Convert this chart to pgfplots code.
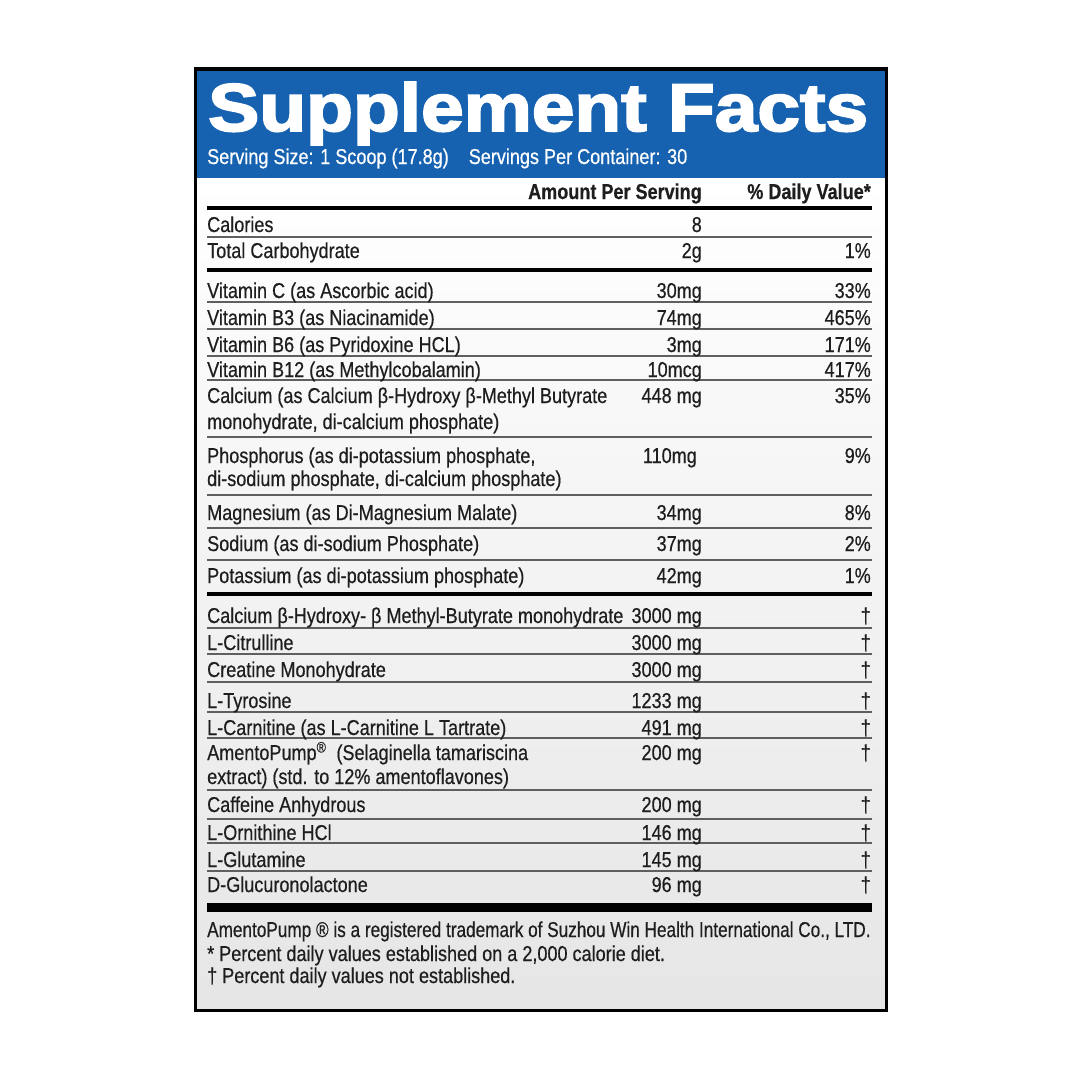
\documentclass[border=0pt]{standalone}
\usepackage{fontspec}
\setmainfont{Liberation Sans}[FakeStretch=0.84,FakeBold=0.5]
\newfontfamily\titlefont{Liberation Sans}[FakeBold=2.6]
\usepackage{graphicx}
\usepackage{pgfplots}
\pgfplotsset{compat=1.18}
\definecolor{labelblue}{RGB}{22,98,176}
\definecolor{ink}{RGB}{30,30,30}
\definecolor{rulegray}{RGB}{95,95,95}
\newcommand\fs{\fontsize{21.5}{24}\selectfont}
\newcommand\Lt[2]{\node[anchor=base west,inner sep=0pt,text=ink,font=\fs] at (axis cs:207,#1) {#2};}
\newcommand\Am[2]{\node[anchor=base east,inner sep=0pt,text=ink,font=\fs] at (axis cs:702,#1) {#2};}
\newcommand\Dv[2]{\node[anchor=base east,inner sep=0pt,text=ink,font=\fs] at (axis cs:871,#1) {#2};}
\newcommand\Thin[1]{\addplot[rulegray,line width=1.6pt] coordinates {(207,#1)(872,#1)};}
\newcommand\Thick[2]{\addplot[black,line width=#2] coordinates {(207,#1)(872,#1)};}
\begin{document}
\begin{tikzpicture}
\begin{axis}[width=1080pt,height=1080pt,scale only axis,
  xmin=0,xmax=1080,ymin=0,ymax=1080,y dir=reverse,
  axis lines=none,clip=false]
% page background
\addplot[draw=none,fill=white] coordinates {(0,0)(1080,0)(1080,1080)(0,1080)} -- cycle;
% label body with light gradient
\addplot[draw=none,top color=white,bottom color=black!10] coordinates {(196,178)(885,178)(885,1010)(196,1010)} -- cycle;
% blue header
\addplot[draw=none,fill=labelblue] coordinates {(197,70.5)(885,70.5)(885,178)(197,178)} -- cycle;
% frame
\addplot[black,line width=3.5pt] coordinates {(195.5,69)(886.5,69)(886.5,1010.5)(195.5,1010.5)} -- cycle;
% rules
\Thick{208}{3.5pt}
\Thin{237}
\Thick{270}{4pt}
\Thin{302}\Thin{329}\Thin{356}\Thin{380}\Thin{437}\Thin{495}\Thin{528}\Thin{560}
\Thick{594}{4pt}
\Thin{628}\Thin{654}\Thin{682}\Thin{712}\Thin{738}\Thin{790}\Thin{819}\Thin{843}\Thin{871}
\Thick{907.5}{9pt}
% title
\node[anchor=base west,inner sep=0pt,text=white] at (axis cs:208,131) {\resizebox{660pt}{49pt}{\titlefont\bfseries Supplement Facts}};
\node[anchor=base west,inner sep=0pt,text=white,font=\fs] at (axis cs:207,164) {Serving Size: 1 Scoop (17.8g)\hspace{20pt}Servings Per Container: 30};
% header
\Am{199}{\bfseries Amount Per Serving}
\Dv{199}{\bfseries \% Daily Value*}
% rows
\Lt{232}{Calories}\Am{232}{8}
\Lt{258}{Total Carbohydrate}\Am{258}{2g}\Dv{258}{1\%}
\Lt{298}{Vitamin C (as Ascorbic acid)}\Am{298}{30mg}\Dv{298}{33\%}
\Lt{325}{Vitamin B3 (as Niacinamide)}\Am{325}{74mg}\Dv{325}{465\%}
\Lt{352}{Vitamin B6 (as Pyridoxine HCL)}\Am{352}{3mg}\Dv{352}{171\%}
\Lt{377}{Vitamin B12 (as Methylcobalamin)}\Am{377}{10mcg}\Dv{377}{417\%}
\Lt{403}{Calcium (as Calcium β-Hydroxy β-Methyl Butyrate}\Am{403}{448 mg}\Dv{403}{35\%}
\Lt{429}{monohydrate, di-calcium phosphate)}
\Lt{463}{Phosphorus (as di-potassium phosphate,}\node[anchor=base east,inner sep=0pt,text=ink,font=\fs] at (axis cs:697,463) {110mg};\Dv{463}{9\%}
\Lt{486}{di-sodium phosphate, di-calcium phosphate)}
\Lt{520}{Magnesium (as Di-Magnesium Malate)}\Am{520}{34mg}\Dv{520}{8\%}
\Lt{551}{Sodium (as di-sodium Phosphate)}\Am{551}{37mg}\Dv{551}{2\%}
\Lt{583}{Potassium (as di-potassium phosphate)}\Am{583}{42mg}\Dv{583}{1\%}
\Lt{623}{Calcium β-Hydroxy- β Methyl-Butyrate monohydrate}\Am{623}{3000 mg}\Dv{623}{†}
\Lt{650}{L-Citrulline}\Am{650}{3000 mg}\Dv{650}{†}
\Lt{677}{Creatine Monohydrate}\Am{677}{3000 mg}\Dv{677}{†}
\Lt{708}{L-Tyrosine}\Am{708}{1233 mg}\Dv{708}{†}
\Lt{735}{L-Carnitine (as L-Carnitine L Tartrate)}\Am{735}{491 mg}\Dv{735}{†}
\Lt{760}{AmentoPump\textsuperscript{®}\ \ (Selaginella tamariscina}\Am{760}{200 mg}\Dv{760}{†}
\Lt{784}{extract) (std. to 12\% amentoflavones)}
\Lt{812}{Caffeine Anhydrous}\Am{812}{200 mg}\Dv{812}{†}
\Lt{840}{L-Ornithine HCl}\Am{840}{146 mg}\Dv{840}{†}
\Lt{867}{L-Glutamine}\Am{867}{145 mg}\Dv{867}{†}
\Lt{892}{D-Glucuronolactone}\Am{892}{96 mg}\Dv{892}{†}
% footnotes
\Lt{937}{\scalebox{0.951}[1]{AmentoPump ® is a registered trademark of Suzhou Win Health International Co., LTD.}}
\Lt{961}{* Percent daily values established on a 2,000 calorie diet.}
\Lt{983}{† Percent daily values not established.}
\end{axis}
\end{tikzpicture}
\end{document}
